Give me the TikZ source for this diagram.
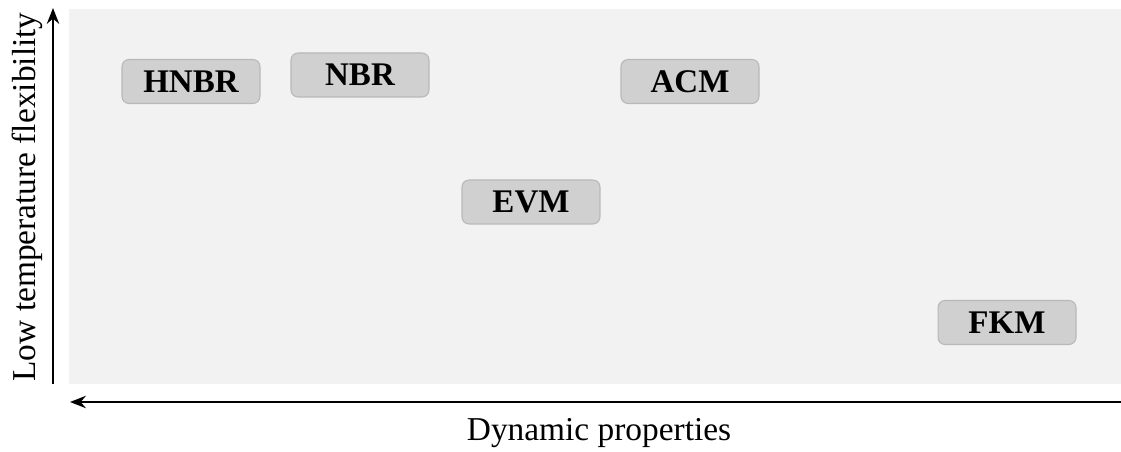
\documentclass[tikz,border=0pt]{standalone}
\usepackage{fontspec}
\setmainfont{Liberation Serif}
\usetikzlibrary{arrows.meta}
\definecolor{panel}{HTML}{F2F2F2}
\definecolor{boxfill}{HTML}{D0D0D0}
\definecolor{boxline}{HTML}{B8B8B8}
\begin{document}
\begin{tikzpicture}[>={Stealth[length=9pt,width=7pt]}, x=0.02cm, y=-0.02cm,
    mat/.style={draw=boxline, fill=boxfill, rounded corners=4pt, line width=0.6pt,
        minimum width=2.76cm, minimum height=0.88cm, inner sep=0pt,
        font=\fontsize{18.8}{21}\selectfont\bfseries},
    axlab/.style={font=\fontsize{19}{22}\selectfont}]
    \useasboundingbox (0,0) rectangle (1121,452);
    \fill[panel] (69,9) rectangle (1121,384); % nen xam
    \node[mat] (HNBR) at (191,81.5) {HNBR};
    \node[mat] (NBR) at (360,75) {NBR};
    \node[mat] (ACM) at (690,81.5) {ACM};
    \node[mat] (EVM) at (531,202) {EVM};
    \node[mat] (FKM) at (1007,322.5) {FKM};
    % truc doc
    \coordinate (ybot) at (53,384);
    \coordinate (ytop) at (53,8);
    \draw[->, line width=1.3pt] (ybot) -- (ytop);
    \node[axlab, rotate=90] (ylab) at (27,197) {Low temperature flexibility};
    % truc ngang
    \coordinate (xright) at (1121,402);
    \coordinate (xleft) at (70,402);
    \draw[->, line width=1.3pt] (xright) -- (xleft);
    \node[axlab] (xlab) at (599,433) {Dynamic properties};
\end{tikzpicture}
\end{document}
